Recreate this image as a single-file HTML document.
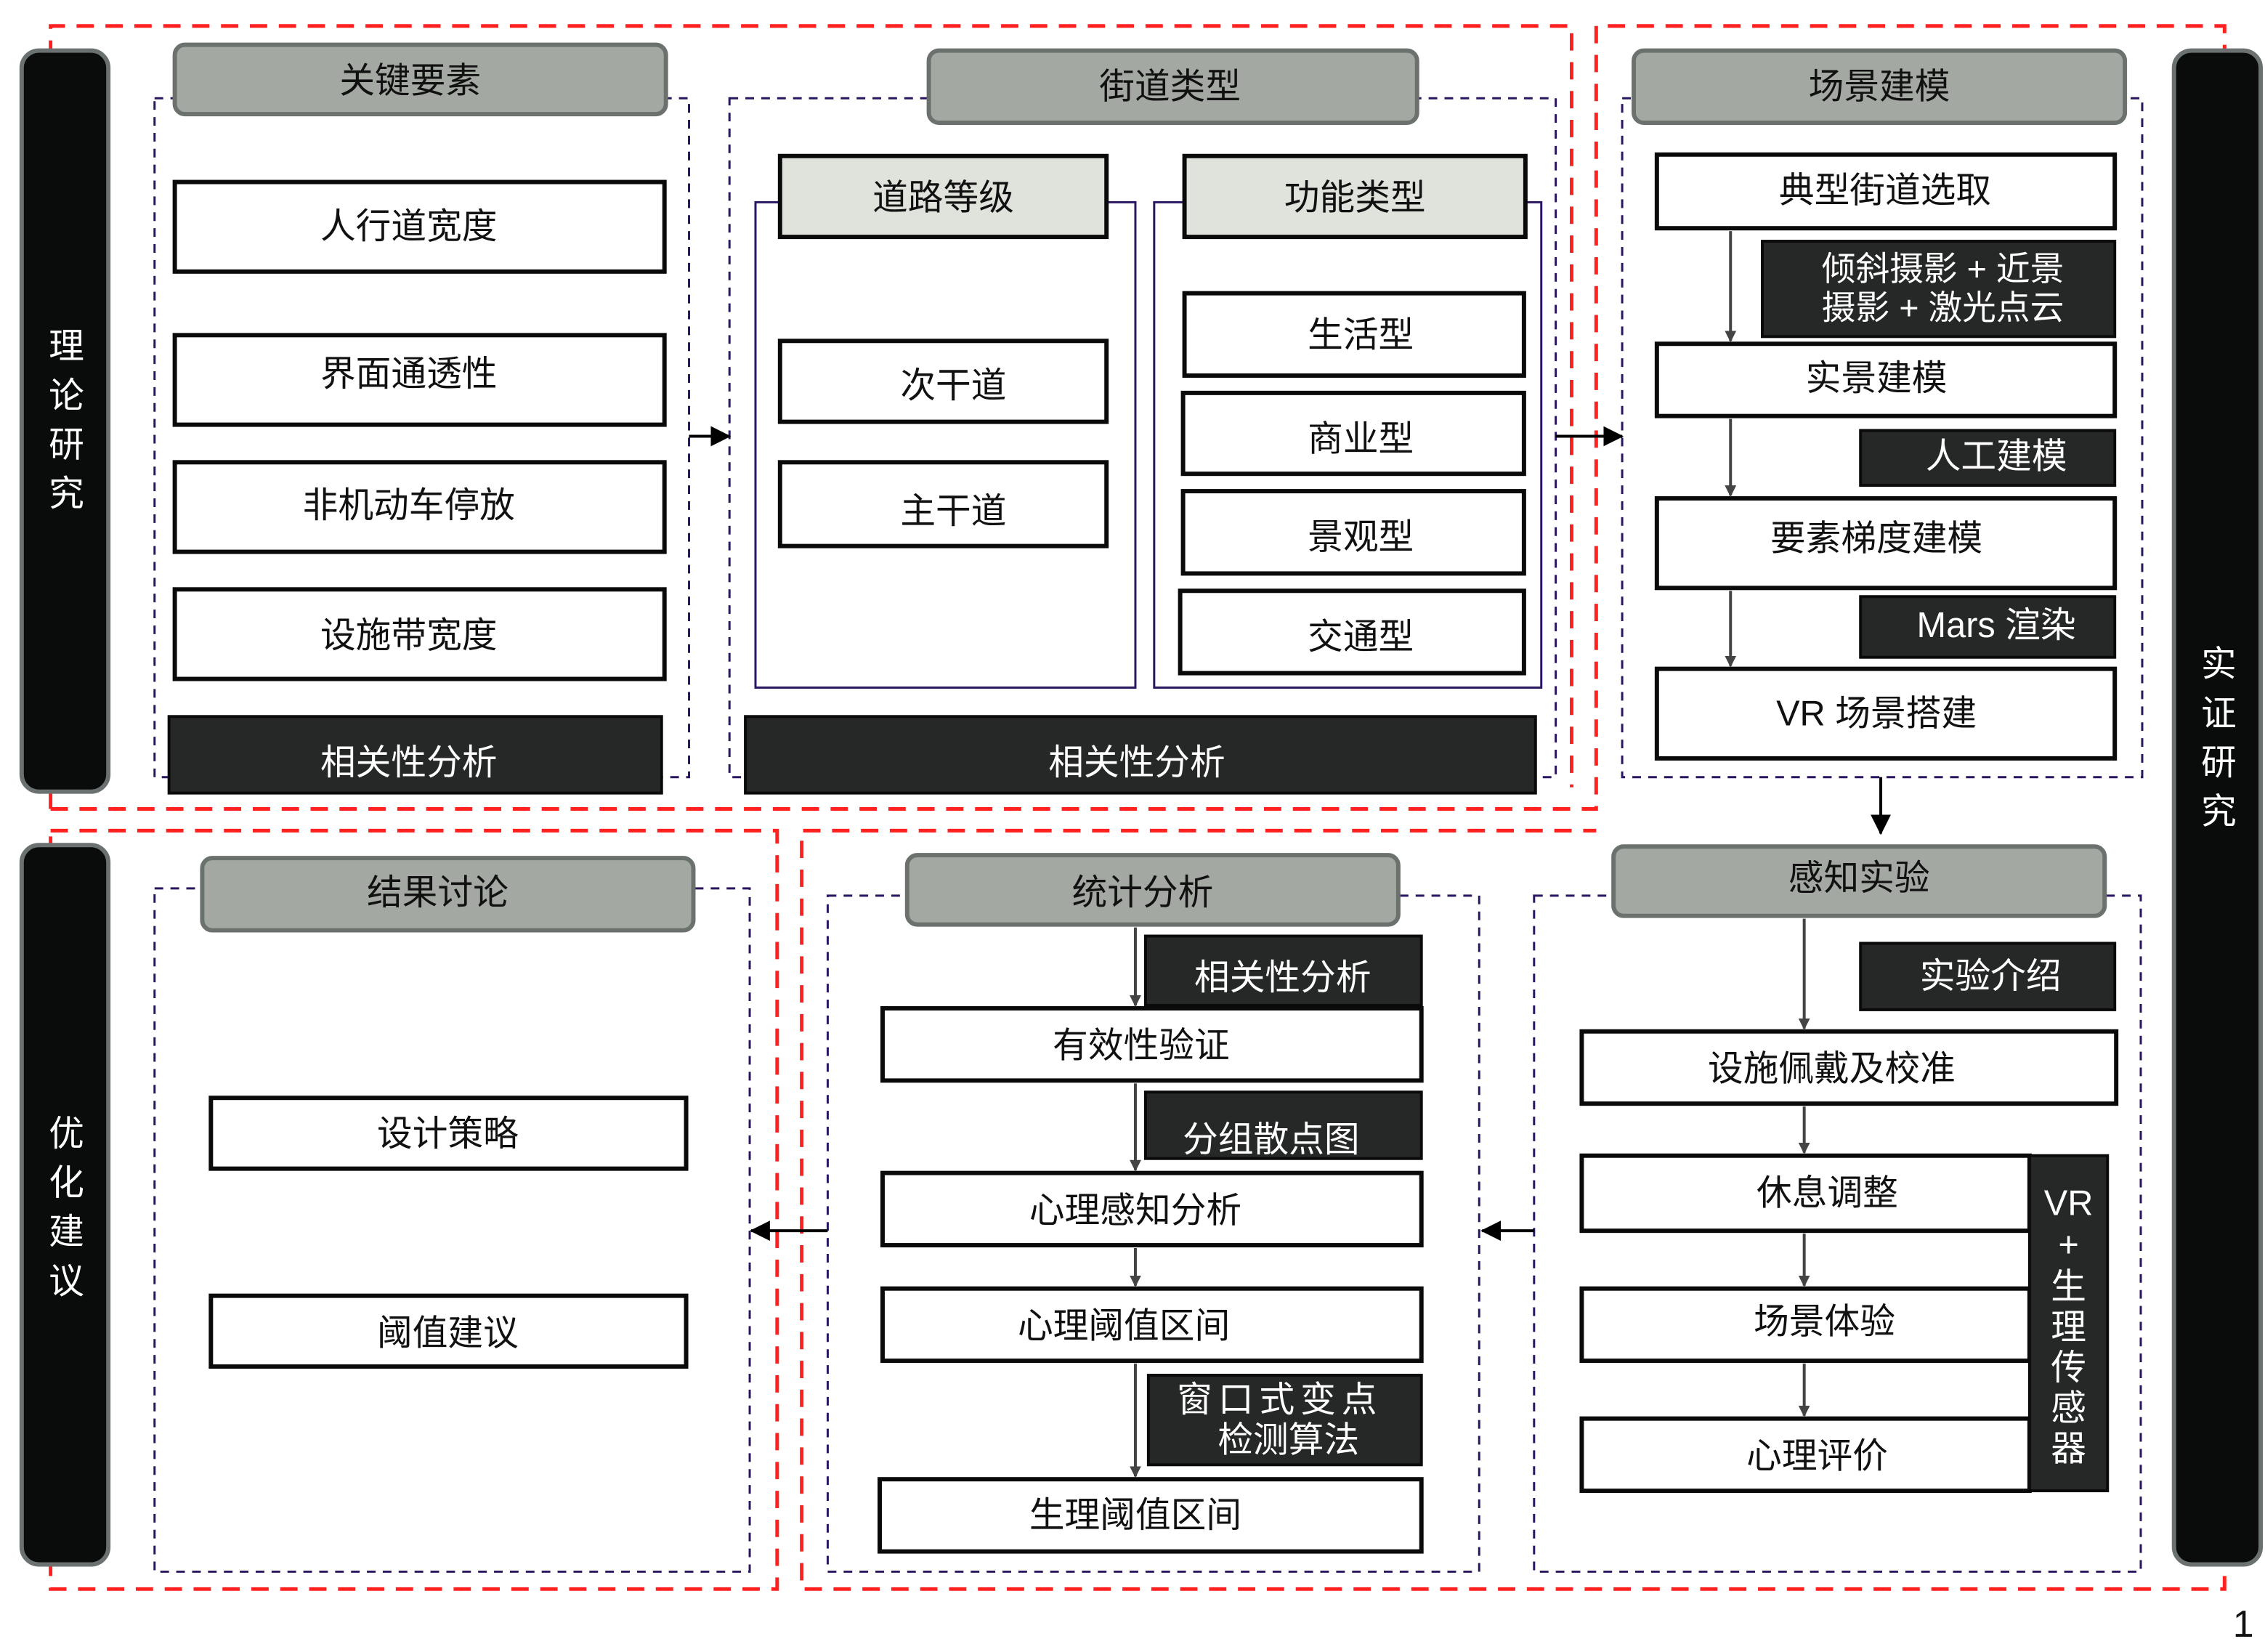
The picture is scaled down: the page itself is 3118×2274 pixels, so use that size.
<!DOCTYPE html>
<html><head><meta charset="utf-8"><style>
html,body{margin:0;padding:0;background:#fff;}
svg{display:block;}
text{font-family:"Liberation Sans","Noto Sans CJK SC",sans-serif;font-size:24.5px;text-anchor:middle;dominant-baseline:central;}
.w{fill:#fff;stroke:#0a0a0a;stroke-width:3;}
.k{fill:#262727;stroke:#0a0a0a;stroke-width:2;}
.g{fill:#a3a8a3;stroke:#6b716d;stroke-width:3;}
.lg{fill:#e0e2dc;stroke:#0a0a0a;stroke-width:3;}
.bar{fill:#0a0c0c;stroke:#6b7070;stroke-width:3;}
.nd{fill:none;stroke:#2a1660;stroke-width:1.5;stroke-dasharray:6 5;}
.ns{fill:none;stroke:#2a1660;stroke-width:1.5;}
.rd{fill:none;stroke:#ff2020;stroke-width:2.5;stroke-dasharray:12 8;}
.t{fill:#111;}
.tw{fill:#fff;}
.ar{stroke:#444;stroke-width:2;}
</style></head><body>
<svg width="3118" height="2274" viewBox="0 0 1568 1143.6" preserveAspectRatio="none">
<defs>
<marker id="a" markerWidth="8" markerHeight="8" refX="7" refY="4" orient="auto" markerUnits="userSpaceOnUse"><path d="M0,0 L8,4 L0,8 z" fill="#444"/></marker>
<marker id="b" markerWidth="14" markerHeight="14" refX="13" refY="7" orient="auto" markerUnits="userSpaceOnUse"><path d="M0,0 L14,7 L0,14 z" fill="#000"/></marker>
</defs>
<path class="rd" d="M35,560 V18 H1088 V545 M35,560 H1105 V18 H1540 V1100 H555 V575 H1105 M35,575 H538 V1100 H35 Z"/>
<rect class="nd" x="107" y="68" width="370" height="470"/>
<rect class="nd" x="505" y="68" width="572" height="470"/>
<rect class="nd" x="1123" y="68" width="360" height="470"/>
<rect class="nd" x="1062" y="620" width="420" height="468"/>
<rect class="nd" x="573" y="620" width="451" height="468"/>
<rect class="nd" x="107" y="615" width="412" height="473"/>
<rect class="ns" x="523" y="140" width="263" height="336"/>
<rect class="ns" x="799" y="140" width="268" height="336"/>
<rect class="bar" x="15" y="35" width="60" height="513" rx="12"/>
<rect class="bar" x="15" y="585" width="60" height="498" rx="12"/>
<rect class="bar" x="1505" y="35" width="60" height="1048" rx="12"/>
<g class="tw"><text x="46" y="240">理</text><text x="46" y="274">论</text><text x="46" y="308">研</text><text x="46" y="342">究</text>
<text x="46" y="785">优</text><text x="46" y="819">化</text><text x="46" y="853">建</text><text x="46" y="887">议</text>
<text x="1536" y="460">实</text><text x="1536" y="494">证</text><text x="1536" y="528">研</text><text x="1536" y="562">究</text></g>
<rect class="g" x="121" y="31" width="340" height="48" rx="7"/><text class="t" x="284" y="56">关键要素</text>
<rect class="g" x="643" y="35" width="338" height="50" rx="7"/><text class="t" x="810" y="60">街道类型</text>
<rect class="g" x="1131" y="35" width="340" height="50" rx="7"/><text class="t" x="1301" y="60">场景建模</text>
<rect class="g" x="1117" y="586" width="340" height="48" rx="7"/><text class="t" x="1287" y="608">感知实验</text>
<rect class="g" x="628" y="592" width="340" height="48" rx="7"/><text class="t" x="791" y="618">统计分析</text>
<rect class="g" x="140" y="594" width="340" height="50" rx="7"/><text class="t" x="303" y="618">结果讨论</text>
<rect class="lg" x="540" y="108" width="226" height="56"/><text class="t" x="653" y="137">道路等级</text>
<rect class="lg" x="820" y="108" width="236" height="56"/><text class="t" x="938" y="137">功能类型</text>
<rect class="w" x="121" y="126" width="339" height="62"/><text class="t" x="283" y="157">人行道宽度</text>
<rect class="w" x="121" y="232" width="339" height="62"/><text class="t" x="283" y="259">界面通透性</text>
<rect class="w" x="121" y="320" width="339" height="62"/><text class="t" x="283" y="350">非机动车停放</text>
<rect class="w" x="121" y="408" width="339" height="62"/><text class="t" x="283" y="440">设施带宽度</text>
<rect class="k" x="117" y="496" width="341" height="53"/><text class="tw" x="283" y="528">相关性分析</text>
<rect class="k" x="516" y="496" width="547" height="53"/><text class="tw" x="787" y="528">相关性分析</text>
<rect class="w" x="540" y="236" width="226" height="56"/><text class="t" x="660" y="267">次干道</text>
<rect class="w" x="540" y="320" width="226" height="58"/><text class="t" x="660" y="354">主干道</text>
<rect class="w" x="820" y="203" width="235" height="57"/><text class="t" x="942" y="232">生活型</text>
<rect class="w" x="819" y="272" width="236" height="56"/><text class="t" x="942" y="304">商业型</text>
<rect class="w" x="819" y="340" width="236" height="57"/><text class="t" x="942" y="372">景观型</text>
<rect class="w" x="817" y="409" width="238" height="57"/><text class="t" x="942" y="441">交通型</text>
<line x1="477" y1="302" x2="505" y2="302" stroke="#000" stroke-width="2" marker-end="url(#b)"/>
<line x1="1077" y1="302" x2="1123" y2="302" stroke="#000" stroke-width="2" marker-end="url(#b)"/>
<rect class="w" x="1147" y="107" width="317" height="51"/><text class="t" x="1305" y="132">典型街道选取</text>
<rect class="k" x="1220" y="167" width="244" height="66"/><text class="tw" x="1345" y="186" style="font-size:23.5px">倾斜摄影 + 近景</text><text class="tw" x="1345" y="213" style="font-size:23.5px">摄影 + 激光点云</text>
<rect class="w" x="1147" y="238" width="317" height="50"/><text class="t" x="1299" y="262">实景建模</text>
<rect class="k" x="1288" y="298" width="176" height="38"/><text class="tw" x="1382" y="316">人工建模</text>
<rect class="w" x="1147" y="345" width="317" height="62"/><text class="t" x="1299" y="373">要素梯度建模</text>
<rect class="k" x="1288" y="413" width="176" height="42"/><text class="tw" x="1382" y="433">Mars 渲染</text>
<rect class="w" x="1147" y="463" width="317" height="62"/><text class="t" x="1299" y="494">VR 场景搭建</text>
<line class="ar" x1="1198" y1="160" x2="1198" y2="236" marker-end="url(#a)"/>
<line class="ar" x1="1198" y1="290" x2="1198" y2="343" marker-end="url(#a)"/>
<line class="ar" x1="1198" y1="409" x2="1198" y2="461" marker-end="url(#a)"/>
<line x1="1302" y1="538" x2="1302" y2="577" stroke="#000" stroke-width="2" marker-end="url(#b)"/>
<rect class="k" x="1288" y="653" width="176" height="46"/><text class="tw" x="1378" y="676">实验介绍</text>
<rect class="w" x="1095" y="714" width="370" height="50"/><text class="t" x="1268" y="740">设施佩戴及校准</text>
<rect class="w" x="1095" y="800" width="310" height="52"/><text class="t" x="1265" y="826">休息调整</text>
<rect class="w" x="1095" y="892" width="310" height="50"/><text class="t" x="1263" y="915">场景体验</text>
<rect class="w" x="1095" y="982" width="310" height="50"/><text class="t" x="1258" y="1008">心理评价</text>
<rect class="k" x="1405" y="800" width="54" height="232"/>
<g class="tw"><text x="1432" y="833">VR</text><text x="1432" y="862">+</text><text x="1432" y="891">生</text><text x="1432" y="919">理</text><text x="1432" y="947">传</text><text x="1432" y="975">感</text><text x="1432" y="1003">器</text></g>
<line class="ar" x1="1249" y1="636" x2="1249" y2="712" marker-end="url(#a)"/>
<line class="ar" x1="1249" y1="766" x2="1249" y2="798" marker-end="url(#a)"/>
<line class="ar" x1="1249" y1="854" x2="1249" y2="890" marker-end="url(#a)"/>
<line class="ar" x1="1249" y1="944" x2="1249" y2="980" marker-end="url(#a)"/>
<line x1="1062" y1="852" x2="1026" y2="852" stroke="#000" stroke-width="2" marker-end="url(#b)"/>
<line x1="573" y1="852" x2="520" y2="852" stroke="#000" stroke-width="2" marker-end="url(#b)"/>
<rect class="k" x="793" y="648" width="191" height="48"/><text class="tw" x="888" y="677">相关性分析</text>
<rect class="w" x="611" y="698" width="373" height="50"/><text class="t" x="790" y="724">有效性验证</text>
<rect class="k" x="793" y="756" width="191" height="46"/><text class="tw" x="880" y="789">分组散点图</text>
<rect class="w" x="611" y="812" width="373" height="50"/><text class="t" x="786" y="838">心理感知分析</text>
<rect class="w" x="611" y="892" width="373" height="50"/><text class="t" x="778" y="918">心理阈值区间</text>
<rect class="k" x="795" y="952" width="189" height="62"/><text class="tw" x="886" y="969" style="letter-spacing:4px">窗口式变点</text><text class="tw" x="892" y="997">检测算法</text>
<rect class="w" x="609" y="1024" width="375" height="50"/><text class="t" x="786" y="1049">生理阈值区间</text>
<line class="ar" x1="786" y1="642" x2="786" y2="696" marker-end="url(#a)"/>
<line class="ar" x1="786" y1="750" x2="786" y2="810" marker-end="url(#a)"/>
<line class="ar" x1="786" y1="864" x2="786" y2="890" marker-end="url(#a)"/>
<line class="ar" x1="786" y1="944" x2="786" y2="1022" marker-end="url(#a)"/>
<rect class="w" x="146" y="760" width="329" height="49"/><text class="t" x="310" y="785">设计策略</text>
<rect class="w" x="146" y="897" width="329" height="49"/><text class="t" x="310" y="923">阈值建议</text>
<text class="t" x="1553" y="1124" style="font-size:26px">1</text>
</svg>
</body></html>
